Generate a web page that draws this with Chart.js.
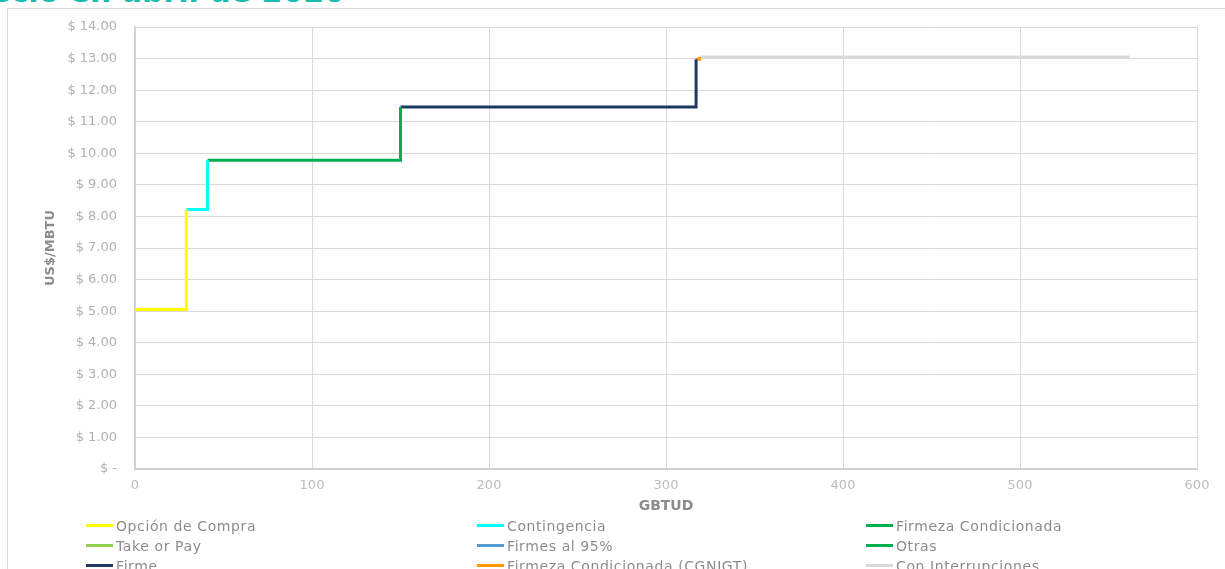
<!DOCTYPE html>
<html>
<head>
<meta charset="utf-8">
<script src="https://cdn.jsdelivr.net/npm/chart.js@4.4.1/dist/chart.umd.min.js"></script>
<style>
  body { margin: 0; width: 1225px; height: 569px; overflow: hidden; background: #fff; position: relative; font-family: "DejaVu Sans", sans-serif; }
  #titulo { position: absolute; right: 880px; top: -26px; white-space: nowrap; font: bold 30px "DejaVu Sans", sans-serif; color: #19bcb0; }
  #marco { position: absolute; left: 7px; top: 8px; width: 1300px; height: 700px; border: 1px solid #d9d9d9; }
  #wrap { position: absolute; left: 0; top: 0; width: 1225px; height: 520px; }
  #leyenda { position: absolute; left: 86px; top: 517px; display: grid; grid-template-columns: 391px 389px 360px; row-gap: 3px; }
  .item { display: flex; align-items: center; height: 17px; font-size: 14px; letter-spacing: 0.6px; color: #8c8c8c; white-space: nowrap; }
  .item span.l { display: inline-block; width: 27px; height: 3px; margin-right: 3px; }
</style>
</head>
<body>
<div id="titulo">Precio en abril de 2020</div>
<div id="marco"></div>
<div id="wrap"><canvas id="myChart"></canvas></div>
<div id="leyenda"></div>
<script>
// tipos de contrato (orden de la leyenda)
const series = ['Opción de Compra', 'Contingencia', 'Firmeza Condicionada',
  'Take or Pay', 'Firmes al 95%', 'Otras',
  'Firme', 'Firmeza Condicionada (CGNIGT)', 'Con Interrupciones'];
// bloque de cada tipo: GBTUD desde / hasta y precio US$/MBTU
const desde  = [0, 29, 41, null, null, null, 150, 317, 319];
const hasta  = [29, 41, 150, null, null, null, 317, 319, 562];
const precio = [5.05, 8.22, 9.78, null, null, null, 11.47, 12.98, 13.05];
const xTicks = [0, 100, 200, 300, 400, 500, 600];
const yTicks = [0, 1, 2, 3, 4, 5, 6, 7, 8, 9, 10, 11, 12, 13, 14];

const colores = ['#ffff00', '#00ffff', '#00b050', '#92d050', '#5b9bd5', '#00b050', '#203864', '#ff9900', '#d9d9d9'];

function puntos(i) {
  if (precio[i] === null) return [];
  const p = [{x: desde[i], y: precio[i]}, {x: hasta[i], y: precio[i]}];
  // escalón hasta el precio del siguiente bloque
  for (let j = i + 1; j < series.length; j++) {
    if (precio[j] !== null) { p.push({x: hasta[i], y: precio[j]}); break; }
  }
  return p;
}

const datasets = series.map((s, i) => ({
  label: s,
  data: puntos(i),
  borderColor: colores[i],
  backgroundColor: colores[i],
  borderWidth: 3,
  pointRadius: 0,
  showLine: true,
  fill: false
}));

const leyenda = document.getElementById('leyenda');
series.forEach((s, i) => {
  const d = document.createElement('div');
  d.className = 'item';
  d.innerHTML = '<span class="l" style="background:' + colores[i] + '"></span>' + s;
  leyenda.appendChild(d);
});

const ctx = document.getElementById('myChart');
new Chart(ctx, {
  type: 'scatter',
  data: { datasets: datasets },
  options: {
    responsive: true,
    maintainAspectRatio: false,
    animation: false,
    layout: { padding: { top: 27, right: 28, left: 0, bottom: 0 } },
    plugins: { legend: { display: false }, tooltip: { enabled: false } },
    scales: {
      x: {
        type: 'linear', min: 0, max: 600,
        afterBuildTicks: (s) => { s.ticks = xTicks.map(v => ({value: v})); },
        afterFit: (s) => { s.height = 51; },
        grid: { color: '#d9d9d9', drawTicks: false },
        border: { color: '#cfcfcf', width: 1.5 },
        ticks: { color: '#bcbcbc', padding: 9, font: { size: 13, family: 'DejaVu Sans' } },
        title: { display: true, text: 'GBTUD', color: '#8c8c8c', padding: { top: 0, bottom: 5 },
                 font: { size: 14, weight: 'bold', family: 'DejaVu Sans' } }
      },
      y: {
        min: 0, max: 14,
        afterBuildTicks: (s) => { s.ticks = yTicks.map(v => ({value: v})); },
        afterFit: (s) => { s.width = 135; },
        grid: { color: '#d9d9d9', drawTicks: false },
        border: { color: '#cfcfcf', width: 1.5 },
        ticks: { color: '#b0b0b0', padding: 18, font: { size: 13, family: 'DejaVu Sans' },
                 callback: (v) => v === 0 ? '$ -' : '$ ' + v.toFixed(2) },
        title: { display: true, text: 'US$/MBTU', color: '#8c8c8c', padding: { top: 43, bottom: 0 },
                 font: { size: 13, weight: 'bold', family: 'DejaVu Sans' } }
      }
    }
  }
});
</script>
</body>
</html>
